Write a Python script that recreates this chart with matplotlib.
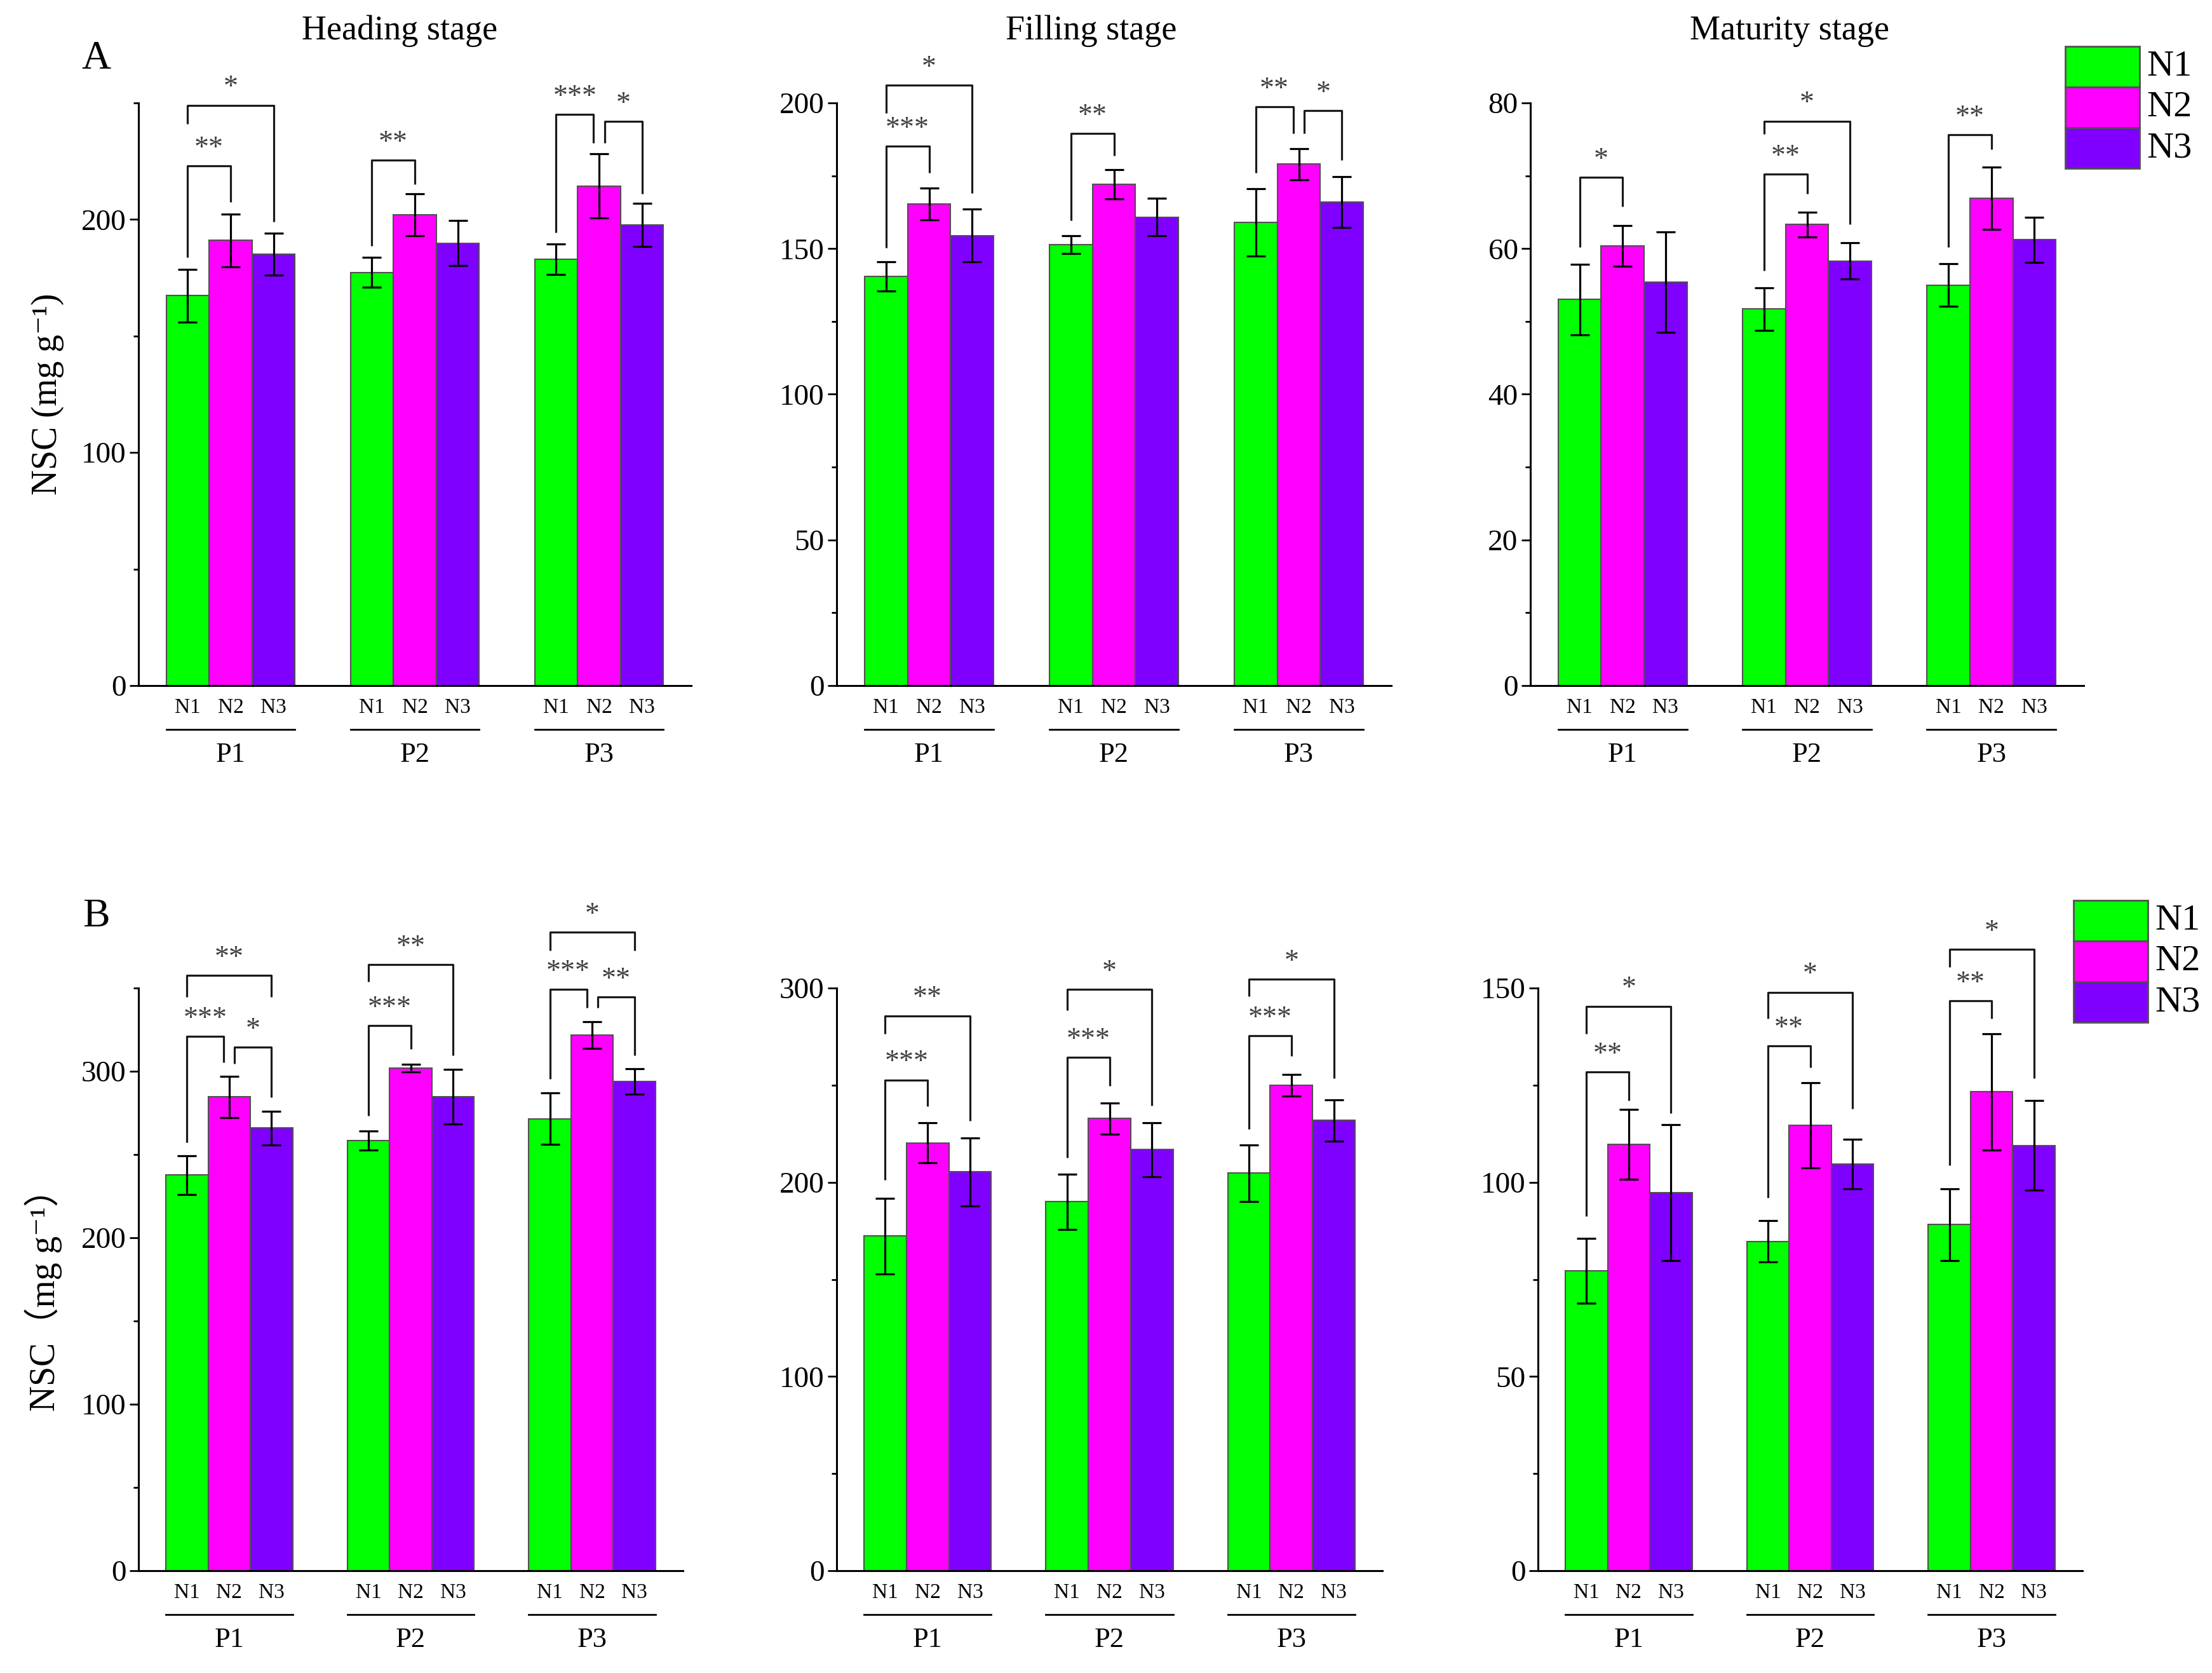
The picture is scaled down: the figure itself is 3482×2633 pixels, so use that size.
import numpy as np
import matplotlib.pyplot as plt
import matplotlib.transforms as mtransforms
from matplotlib.ticker import MultipleLocator
from matplotlib.patches import Rectangle

plt.rcParams['font.family'] = ['Liberation Serif', 'Noto Sans CJK SC', 'DejaVu Serif']

groups = ['P1', 'P2', 'P3']
series = ['N1', 'N2', 'N3']
colors = ['#00ff00', '#ff00ff', '#8000ff']

# rows = P1..P3, columns = N1..N3
heading_a = [[167.3, 191.0, 185.2], [177.3, 202.0, 189.8], [183.0, 214.4, 197.6]]
heading_a_err = [[11.3, 11.3, 9.0], [6.4, 9.0, 9.7], [6.6, 13.7, 9.3]]
filling_a = [[140.4, 165.3, 154.5], [151.4, 172.0, 160.8], [159.0, 179.0, 166.0]]
filling_a_err = [[5.0, 5.4, 9.0], [3.0, 5.0, 6.4], [11.5, 5.4, 8.8]]
maturity_a = [[53.0, 60.4, 55.4], [51.7, 63.3, 58.3], [55.0, 66.9, 61.2]]
maturity_a_err = [[4.8, 2.8, 6.9], [2.9, 1.7, 2.5], [2.9, 4.3, 3.1]]

heading_b = [[237.7, 284.7, 265.9], [258.4, 301.9, 284.7], [271.5, 321.6, 293.8]]
heading_b_err = [[11.7, 12.4, 10.0], [5.8, 2.3, 16.3], [15.5, 8.0, 7.7]]
filling_b = [[172.3, 220.3, 205.3], [190.0, 232.9, 216.8], [204.7, 250.0, 231.8]]
filling_b_err = [[19.5, 10.2, 17.6], [14.2, 8.0, 14.0], [14.5, 5.5, 10.7]]
maturity_b = [[77.2, 109.8, 97.4], [84.8, 114.7, 104.7], [89.1, 123.3, 109.5]]
maturity_b_err = [[8.3, 9.0, 17.5], [5.3, 11.0, 6.4], [9.2, 15.0, 11.5]]

# significance brackets: (group, bar i, bar j, top, left leg end, right leg end, stars)
heading_a_sig = [(0, 0, 1, 222.9, 183.7, 207.6, '**'), (0, 0, 2, 249.0, 241.0, 199.0, '*'),
                 (1, 0, 1, 225.5, 188.7, 215.0, '**'),
                 (2, 0, 1, 245.0, 194.5, 232.7, '***'), (2, 1, 2, 242.0, 232.7, 211.0, '*')]
filling_a_sig = [(0, 0, 1, 185.2, 150.3, 176.0, '***'), (0, 0, 2, 206.0, 196.5, 169.0, '*'),
                 (1, 0, 1, 189.5, 159.6, 182.0, '**'),
                 (2, 0, 1, 198.6, 176.0, 189.5, '**'), (2, 1, 2, 197.4, 189.5, 180.3, '*')]
maturity_a_sig = [(0, 0, 1, 69.8, 60.2, 65.8, '*'),
                  (1, 0, 1, 70.2, 57.0, 67.5, '**'), (1, 0, 2, 77.5, 75.7, 63.3, '*'),
                  (2, 0, 1, 75.6, 60.2, 73.6, '**')]
heading_b_sig = [(0, 0, 1, 321.0, 257.4, 305.4, '***'), (0, 1, 2, 314.4, 304.7, 284.4, '*'),
                 (0, 0, 2, 357.7, 344.5, 344.5, '**'),
                 (1, 0, 1, 327.3, 273.4, 313.2, '***'), (1, 0, 2, 364.0, 354.0, 309.4, '**'),
                 (2, 0, 1, 349.2, 295.3, 338.2, '***'), (2, 1, 2, 344.5, 338.2, 309.4, '**'),
                 (2, 0, 2, 383.6, 372.7, 372.7, '*')]
filling_b_sig = [(0, 0, 1, 252.7, 201.2, 239.3, '***'), (0, 0, 2, 285.7, 276.4, 231.5, '**'),
                 (1, 0, 1, 264.3, 212.8, 249.5, '***'), (1, 0, 2, 299.2, 288.4, 239.6, '*'),
                 (2, 0, 1, 275.5, 227.5, 265.0, '***'), (2, 0, 2, 304.5, 295.7, 253.5, '*')]
maturity_b_sig = [(0, 0, 1, 128.4, 91.2, 121.0, '**'), (0, 0, 2, 145.3, 138.2, 117.8, '*'),
                  (1, 0, 1, 135.1, 96.0, 129.5, '**'), (1, 0, 2, 148.9, 142.2, 119.0, '*'),
                  (2, 0, 1, 146.7, 104.3, 142.2, '**'), (2, 0, 2, 159.9, 155.4, 126.8, '*')]

stage_titles = ['Heading stage', 'Filling stage', 'Maturity stage']

W, H = 3482, 2633
fig = plt.figure(figsize=(W / 100, H / 100), dpi=100)

bw = 0.233


def add_ax(x0, x1, y0, y1):
    return fig.add_axes([x0 / W, 1 - y1 / H, (x1 - x0) / W, (y1 - y0) / H])


def draw(ax, mean, err, sig, ymax, major, minor):
    mean = np.array(mean)
    err = np.array(err)
    x = np.arange(len(groups))
    for k in range(len(series)):
        ax.bar(x + (k - 1) * bw, mean[:, k], bw, yerr=err[:, k], color=colors[k],
               edgecolor='#505050', linewidth=1.5, capsize=11,
               error_kw=dict(elinewidth=2.3, capthick=2.3, ecolor='black'), zorder=2)
    ax.set_xlim(-0.5, 2.5)
    ax.set_ylim(0, ymax)
    ax.yaxis.set_major_locator(MultipleLocator(major))
    ax.yaxis.set_minor_locator(MultipleLocator(minor))
    ax.tick_params(axis='y', which='major', length=10, width=2, labelsize=34, pad=4)
    ax.tick_params(axis='y', which='minor', length=6, width=2)
    pos = [g + (k - 1) * bw for g in x for k in range(len(series))]
    ax.set_xticks(pos)
    ax.set_xticklabels(series * len(groups))
    ax.tick_params(axis='x', length=0, labelsize=24, pad=14)
    for s in ['top', 'right']:
        ax.spines[s].set_visible(False)
    for s in ['left', 'bottom']:
        ax.spines[s].set_linewidth(2.2)
    trans = mtransforms.blended_transform_factory(ax.transData, ax.transAxes)
    for g in x:
        ax.plot([g - 1.5 * bw, g + 1.5 * bw], [-0.075, -0.075], color='black', lw=2,
                transform=trans, clip_on=False)
        ax.text(g, -0.119, groups[g], transform=trans, ha='center', va='center', fontsize=32)
    pairs = [(s[0], s[1], s[2]) for s in sig]
    for g, i, j, top, lo_i, lo_j, lab in sig:
        xi = g + (i - 1) * bw
        xj = g + (j - 1) * bw
        if i == 1 and (g, 0, 1) in pairs:
            xi += 0.03
        if j == 1 and (g, 1, 2) in pairs:
            xj -= 0.03
        ax.plot([xi, xi, xj, xj], [lo_i, top, top, lo_j], color='#1a1a1a', lw=2.3,
                clip_on=False, solid_capstyle='butt', zorder=3)
        ax.annotate(lab, ((xi + xj) / 2, top), xytext=(0, 11),
                    textcoords='offset points', ha='center', va='baseline',
                    fontsize=33, color='#404040', annotation_clip=False)


axA1 = add_ax(218, 1088, 162, 1079)
axA2 = add_ax(1317, 2190, 162, 1079)
axA3 = add_ax(2409, 3280, 162, 1079)
axB1 = add_ax(218, 1075, 1555, 2472)
axB2 = add_ax(1317, 2176, 1555, 2472)
axB3 = add_ax(2421, 3278, 1555, 2472)

draw(axA1, heading_a, heading_a_err, heading_a_sig, 250, 100, 50)
draw(axA2, filling_a, filling_a_err, filling_a_sig, 200, 50, 25)
draw(axA3, maturity_a, maturity_a_err, maturity_a_sig, 80, 20, 10)
draw(axB1, heading_b, heading_b_err, heading_b_sig, 350, 100, 50)
draw(axB2, filling_b, filling_b_err, filling_b_sig, 300, 100, 50)
draw(axB3, maturity_b, maturity_b_err, maturity_b_sig, 150, 50, 25)

for ax, t, xo in zip([axA1, axA2, axA3], stage_titles, [0.473, 0.459, 0.468]):
    ax.text(xo, 1.124, t, transform=ax.transAxes, ha='center', va='center', fontsize=39)

axA1.set_ylabel('NSC (mg g\u207b\u00b9)', fontsize=40)
axA1.yaxis.set_label_coords(-0.135, 0.5)
axB1.set_ylabel('NSC\uff08mg g\u207b\u00b9\uff09', fontsize=40)
axB1.yaxis.set_label_coords(-0.14, 0.48)

fig.text(151 / W, 1 - 93 / H, 'A', fontsize=46, ha='center', va='center')
fig.text(151 / W, 1 - 1443 / H, 'B', fontsize=46, ha='center', va='center')

# legends
for lx, ly in [(3251, 73), (3264, 1417)]:
    bh = 64
    for k, name in enumerate(series):
        y0 = ly + k * bh
        fig.patches.append(Rectangle((lx / W, 1 - (y0 + bh) / H), 117 / W, bh / H,
                                     transform=fig.transFigure, facecolor=colors[k],
                                     edgecolor='#505050', linewidth=2))
        fig.text((lx + 128) / W, 1 - (y0 + bh / 2) / H, name, fontsize=42,
                 ha='left', va='center')

fig.savefig('out.png', dpi=100)
